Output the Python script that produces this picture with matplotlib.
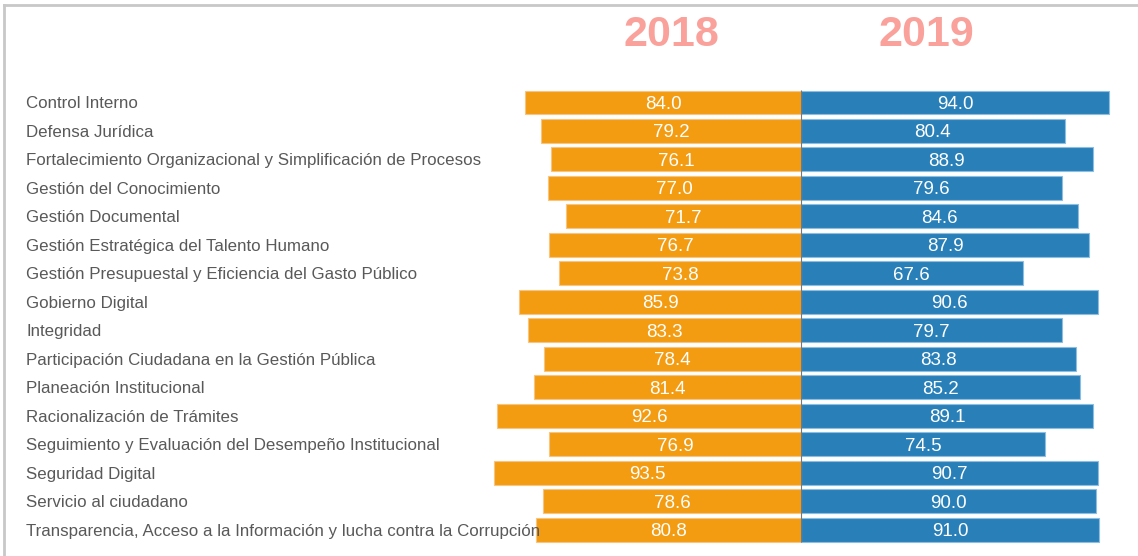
import matplotlib
matplotlib.use("Agg")
from matplotlib import pyplot as plt
from matplotlib.lines import Line2D

categories = [
    "Control Interno",
    "Defensa Jurídica",
    "Fortalecimiento Organizacional y Simplificación de Procesos",
    "Gestión del Conocimiento",
    "Gestión Documental",
    "Gestión Estratégica del Talento Humano",
    "Gestión Presupuestal y Eficiencia del Gasto Público",
    "Gobierno Digital",
    "Integridad",
    "Participación Ciudadana en la Gestión Pública",
    "Planeación Institucional",
    "Racionalización de Trámites",
    "Seguimiento y Evaluación del Desempeño Institucional",
    "Seguridad Digital",
    "Servicio al ciudadano",
    "Transparencia, Acceso a la Información y lucha contra la Corrupción",
]
values_2018 = [84.0, 79.2, 76.1, 77.0, 71.7, 76.7, 73.8, 85.9, 83.3, 78.4, 81.4, 92.6, 76.9, 93.5, 78.6, 80.8]
values_2019 = [94.0, 80.4, 88.9, 79.6, 84.6, 87.9, 67.6, 90.6, 79.7, 83.8, 85.2, 89.1, 74.5, 90.7, 90.0, 91.0]
years = ["2018", "2019"]

W, H = 1138, 556
plt.rcParams['font.family'] = ['Liberation Sans', 'DejaVu Sans']

fig = plt.figure(figsize=(W / 100, H / 100), dpi=100)
ax = fig.add_axes([0, 0, 1, 1])

# pixel layout: centre line at x=801, 3.28 px per unit, rows 28.47 px apart
cx, scale = 801, 3.28
row0, step = 102.5, 28.47
ax.set_xlim(-cx / scale, (W - cx) / scale)
ax.set_ylim((H - row0) / step, -row0 / step)
ax.axis("off")

ypos = list(range(len(categories)))
ax.barh(ypos, [-v for v in values_2018], height=0.84, color="#F39C12",
        edgecolor="#F7C580", linewidth=0.8)
ax.barh(ypos, values_2019, height=0.84, color="#2980B9",
        edgecolor="#8DBDE0", linewidth=0.8)
ax.vlines(0, -0.45, len(categories) - 0.55, color="#777777", linewidth=0.8)

for i, (a, b) in enumerate(zip(values_2018, values_2019)):
    ax.text(-a / 2, i, f"{a:.1f}", color="white", fontsize=13.5,
            ha="center", va="center_baseline")
    ax.text(b / 2, i, f"{b:.1f}", color="white", fontsize=13.5,
            ha="center", va="center_baseline")

for i, name in enumerate(categories):
    ax.text(26 / W, 1 - (row0 + step * i) / H, name, transform=ax.transAxes,
            color="#595959", fontsize=12.2, ha="left", va="center_baseline",
            zorder=5)

fig.text(671 / W, 1 - 30 / H, years[0], color="#F9A19A", fontsize=31,
         fontweight="bold", ha="center", va="center_baseline")
fig.text(926 / W, 1 - 30 / H, years[1], color="#F9A19A", fontsize=31,
         fontweight="bold", ha="center", va="center_baseline")

# frame remnants: top and left border
fig.add_artist(Line2D([4 / W, 1], [1 - 4.5 / H, 1 - 4.5 / H], color="#C8C8C8",
                      linewidth=2, transform=fig.transFigure))
fig.add_artist(Line2D([4 / W, 4 / W], [0, 1 - 4.5 / H], color="#C8C8C8",
                      linewidth=2, transform=fig.transFigure))

fig.savefig("out.png", dpi=100)
